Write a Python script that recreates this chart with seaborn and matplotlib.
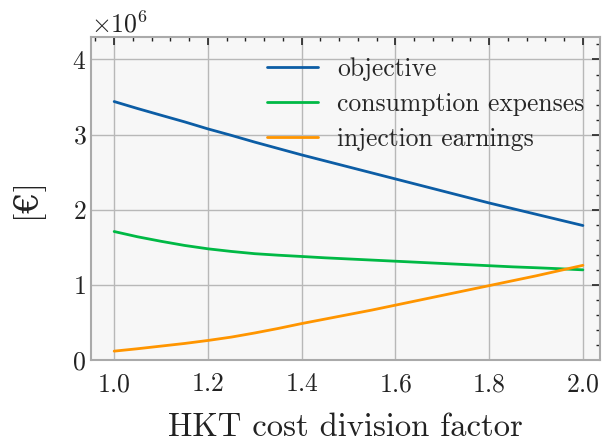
import matplotlib
matplotlib.use("Agg")
import matplotlib.pyplot as plt
from matplotlib.ticker import MultipleLocator
import numpy as np
import pandas as pd
import seaborn as sns

# data (values in 1e6 EUR)
factor = [1.0, 1.05, 1.1, 1.15, 1.2, 1.25, 1.3, 1.35, 1.4, 1.45, 1.5,
          1.55, 1.6, 1.65, 1.7, 1.75, 1.8, 1.85, 1.9, 1.95, 2.0]
objective = [3.44, 3.347, 3.258, 3.17, 3.076, 2.99, 2.90, 2.815, 2.73, 2.65, 2.57,
             2.49, 2.41, 2.33, 2.25, 2.17, 2.09, 2.015, 1.94, 1.865, 1.79]
consumption = [1.71, 1.64, 1.58, 1.525, 1.48, 1.445, 1.415, 1.395, 1.378, 1.36, 1.345,
               1.33, 1.315, 1.30, 1.285, 1.27, 1.255, 1.24, 1.228, 1.215, 1.20]
injection = [0.118, 0.15, 0.185, 0.22, 0.26, 0.305, 0.36, 0.42, 0.485, 0.545, 0.605,
             0.665, 0.73, 0.795, 0.86, 0.925, 0.99, 1.055, 1.12, 1.19, 1.26]
labels = ["objective", "consumption expenses", "injection earnings"]
colors = ["#0C5DA5", "#00B945", "#FF9500"]

n = len(factor)
df = pd.DataFrame({
    "factor": factor * 3,
    "value": np.array(objective + consumption + injection) * 1e6,
    "series": [labels[0]] * n + [labels[1]] * n + [labels[2]] * n,
})

sns.set_style("whitegrid", {
    "axes.facecolor": "#f7f7f7",
    "axes.edgecolor": "#aaaaaa",
    "grid.color": "#b8b8b8",
    "xtick.direction": "in",
    "ytick.direction": "in",
})
plt.rcParams["font.family"] = ["cmr10", "DejaVu Serif"]
plt.rcParams["mathtext.fontset"] = "cm"
plt.rcParams["axes.formatter.use_mathtext"] = True
plt.rcParams["axes.unicode_minus"] = False

fig = plt.figure(figsize=(6.04, 4.45), dpi=100)
ax = fig.add_axes([0.151, 0.191, 0.842, 0.726])

sns.lineplot(data=df, x="factor", y="value", hue="series",
             palette=colors, linewidth=2, ax=ax)

ax.set_xlim(0.951, 2.036)
ax.set_ylim(0, 4.3e6)
ax.xaxis.set_major_locator(MultipleLocator(0.2))
ax.xaxis.set_minor_locator(MultipleLocator(0.04))
ax.yaxis.set_major_locator(MultipleLocator(1e6))
ax.yaxis.set_minor_locator(MultipleLocator(0.2e6))
ax.tick_params(which="both", direction="in", top=True, right=True,
               color="#222222", labelsize=18.5, labelcolor="#222222")
ax.tick_params(which="major", length=6, width=1.2)
ax.tick_params(which="minor", length=3, width=1)
ax.tick_params(axis="x", pad=9)
ax.yaxis.get_offset_text().set_fontsize(18.5)
ax.grid(True, which="major", linewidth=1)
for s in ax.spines.values():
    s.set_linewidth(1.5)

ax.set_xlabel("HKT cost division factor", fontsize=23.5, labelpad=12, color="#222222")
ax.set_ylabel("[€]", fontsize=24, labelpad=22, color="#222222")

leg = ax.legend(loc="upper right", bbox_to_anchor=(1.0, 0.985), frameon=False,
                fontsize=18.4, handlelength=2.0, handletextpad=0.75,
                borderaxespad=0.2, labelspacing=0.45)

fig.savefig("out.png", dpi=100)
